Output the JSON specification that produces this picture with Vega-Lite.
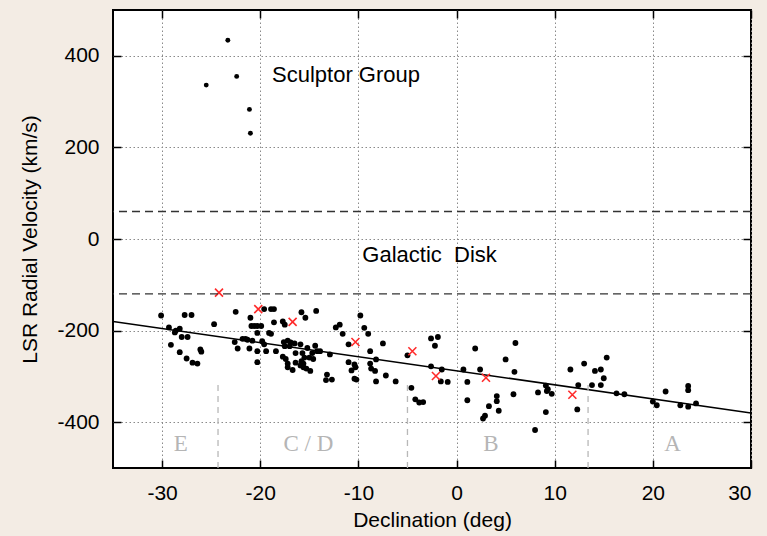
{
  "$schema": "https://vega.github.io/schema/vega-lite/v6.json",
  "width": 638,
  "height": 458,
  "autosize": {"type": "none"},
  "padding": {"left": 113, "top": 10, "right": 16, "bottom": 68},
  "background": "#f3ece4",
  "config": {
    "view": {"fill": "white", "stroke": "black", "strokeWidth": 2},
    "axis": {
      "labelFont": "Liberation Sans",
      "labelFontSize": 21,
      "labelColor": "black",
      "labelExpr": "(datum.value < 0 ? '-' : '') + abs(datum.value)",
      "titleFont": "Liberation Sans",
      "titleFontSize": 21,
      "titleFontWeight": "normal",
      "titleColor": "black",
      "tickColor": "black",
      "tickWidth": 1.5,
      "tickSize": -8,
      "labelPadding": 22,
      "domain": false,
      "gridColor": "#8a8a8a",
      "gridDash": [1.5, 2.5],
      "gridWidth": 1,
      "gridOpacity": 1
    }
  },
  "resolve": {"axis": {"x": "independent", "y": "independent"}},
  "datasets": {
    "hvc": [
      {"dec": -30.1, "vel": -167}, {"dec": -29.3, "vel": -193}, {"dec": -28.7, "vel": -204}, {"dec": -28.6, "vel": -200},
      {"dec": -28.2, "vel": -196}, {"dec": -29.1, "vel": -231}, {"dec": -28.0, "vel": -214}, {"dec": -27.4, "vel": -214},
      {"dec": -27.7, "vel": -166}, {"dec": -27.0, "vel": -166}, {"dec": -28.2, "vel": -247}, {"dec": -27.5, "vel": -261},
      {"dec": -26.9, "vel": -270}, {"dec": -26.4, "vel": -272}, {"dec": -26.1, "vel": -241}, {"dec": -26.0, "vel": -246},
      {"dec": -24.7, "vel": -186},
      {"dec": -22.5, "vel": -159}, {"dec": -22.6, "vel": -225}, {"dec": -22.3, "vel": -239}, {"dec": -21.8, "vel": -218},
      {"dec": -21.5, "vel": -218}, {"dec": -21.1, "vel": -239}, {"dec": -21.0, "vel": -172}, {"dec": -20.8, "vel": -222},
      {"dec": -21.3, "vel": -220}, {"dec": -20.9, "vel": -190}, {"dec": -20.6, "vel": -190}, {"dec": -20.3, "vel": -190},
      {"dec": -19.9, "vel": -190}, {"dec": -20.3, "vel": -205}, {"dec": -20.3, "vel": -269}, {"dec": -20.3, "vel": -245},
      {"dec": -19.6, "vel": -153}, {"dec": -18.9, "vel": -153}, {"dec": -18.6, "vel": -153}, {"dec": -19.8, "vel": -223},
      {"dec": -19.6, "vel": -230}, {"dec": -19.4, "vel": -245}, {"dec": -18.4, "vel": -245}, {"dec": -19.1, "vel": -205},
      {"dec": -18.6, "vel": -182}, {"dec": -17.7, "vel": -180}, {"dec": -17.5, "vel": -187}, {"dec": -15.8, "vel": -160},
      {"dec": -15.4, "vel": -172}, {"dec": -14.3, "vel": -157}, {"dec": -18.9, "vel": -207},
      {"dec": -17.6, "vel": -225}, {"dec": -17.2, "vel": -222}, {"dec": -16.9, "vel": -226}, {"dec": -17.5, "vel": -234},
      {"dec": -17.0, "vel": -234}, {"dec": -16.5, "vel": -228}, {"dec": -15.9, "vel": -230}, {"dec": -15.2, "vel": -238},
      {"dec": -14.4, "vel": -233}, {"dec": -14.2, "vel": -245}, {"dec": -14.7, "vel": -249}, {"dec": -16.4, "vel": -249},
      {"dec": -15.7, "vel": -249}, {"dec": -15.5, "vel": -259}, {"dec": -17.7, "vel": -257}, {"dec": -17.4, "vel": -262},
      {"dec": -17.2, "vel": -272}, {"dec": -16.4, "vel": -270}, {"dec": -15.8, "vel": -267}, {"dec": -15.6, "vel": -272},
      {"dec": -15.0, "vel": -259}, {"dec": -14.6, "vel": -262}, {"dec": -17.2, "vel": -280}, {"dec": -16.7, "vel": -286},
      {"dec": -15.9, "vel": -276}, {"dec": -15.6, "vel": -280}, {"dec": -15.3, "vel": -283}, {"dec": -14.9, "vel": -288},
      {"dec": -13.9, "vel": -245}, {"dec": -12.9, "vel": -252},
      {"dec": -13.2, "vel": -296}, {"dec": -13.3, "vel": -308}, {"dec": -12.7, "vel": -307}, {"dec": -12.3, "vel": -193},
      {"dec": -11.9, "vel": -187}, {"dec": -11.6, "vel": -207}, {"dec": -9.8, "vel": -167}, {"dec": -9.4, "vel": -194},
      {"dec": -9.0, "vel": -207}, {"dec": -11.0, "vel": -230}, {"dec": -11.0, "vel": -269}, {"dec": -10.7, "vel": -287},
      {"dec": -10.4, "vel": -274}, {"dec": -10.3, "vel": -280}, {"dec": -10.4, "vel": -305}, {"dec": -10.2, "vel": -307},
      {"dec": -8.8, "vel": -272}, {"dec": -8.7, "vel": -283}, {"dec": -8.3, "vel": -288}, {"dec": -8.2, "vel": -311},
      {"dec": -8.2, "vel": -263}, {"dec": -8.8, "vel": -245}, {"dec": -7.5, "vel": -228}, {"dec": -7.2, "vel": -298},
      {"dec": -6.2, "vel": -311}, {"dec": -5.0, "vel": -254}, {"dec": -4.6, "vel": -325}, {"dec": -4.2, "vel": -350},
      {"dec": -3.8, "vel": -357}, {"dec": -3.4, "vel": -356},
      {"dec": -2.6, "vel": -217}, {"dec": -2.2, "vel": -233}, {"dec": -1.9, "vel": -214}, {"dec": -2.6, "vel": -278},
      {"dec": -1.5, "vel": -285}, {"dec": -1.6, "vel": -311}, {"dec": -0.9, "vel": -312}, {"dec": 0.7, "vel": -285},
      {"dec": 1.1, "vel": -312}, {"dec": 1.1, "vel": -352}, {"dec": 1.9, "vel": -239}, {"dec": 2.4, "vel": -285},
      {"dec": 2.7, "vel": -392}, {"dec": 2.9, "vel": -386}, {"dec": 3.3, "vel": -365}, {"dec": 4.1, "vel": -343},
      {"dec": 4.1, "vel": -354}, {"dec": 4.3, "vel": -375}, {"dec": 5.0, "vel": -263}, {"dec": 5.8, "vel": -339},
      {"dec": 6.0, "vel": -227}, {"dec": 5.9, "vel": -290}, {"dec": 8.0, "vel": -417}, {"dec": 8.3, "vel": -335},
      {"dec": 9.1, "vel": -320}, {"dec": 9.2, "vel": -332}, {"dec": 9.3, "vel": -328}, {"dec": 9.7, "vel": -338},
      {"dec": 9.1, "vel": -378},
      {"dec": 11.6, "vel": -285}, {"dec": 12.3, "vel": -372}, {"dec": 12.4, "vel": -319}, {"dec": 13.0, "vel": -272},
      {"dec": 13.8, "vel": -319}, {"dec": 14.1, "vel": -288}, {"dec": 14.7, "vel": -285}, {"dec": 14.7, "vel": -319},
      {"dec": 15.0, "vel": -304}, {"dec": 15.3, "vel": -259}, {"dec": 16.3, "vel": -337}, {"dec": 17.1, "vel": -339},
      {"dec": 20.0, "vel": -355}, {"dec": 20.4, "vel": -363}, {"dec": 21.3, "vel": -333}, {"dec": 22.8, "vel": -363},
      {"dec": 23.6, "vel": -321}, {"dec": 23.6, "vel": -330}, {"dec": 23.6, "vel": -366}, {"dec": 24.4, "vel": -359}
    ],
    "sculptor": [
      {"dec": -23.3, "vel": 434}, {"dec": -22.4, "vel": 355}, {"dec": -25.5, "vel": 336},
      {"dec": -21.1, "vel": 283}, {"dec": -21.0, "vel": 231}
    ],
    "means": [
      {"dec": -24.2, "vel": -117}, {"dec": -20.2, "vel": -153}, {"dec": -16.7, "vel": -181}, {"dec": -10.3, "vel": -225},
      {"dec": -4.5, "vel": -245}, {"dec": -2.1, "vel": -299}, {"dec": 3.0, "vel": -303}, {"dec": 11.8, "vel": -340}
    ],
    "fit": [{"dec": -35, "vel": -180}, {"dec": 30, "vel": -380}],
    "bounds": [{"vel": 60}, {"vel": -120}],
    "dividers": [
      {"dec": -24.3, "lo": -500, "hi": -318}, {"dec": -5.0, "lo": -500, "hi": -318}, {"dec": 13.4, "lo": -500, "hi": -318}
    ],
    "regions": [
      {"dec": -28.1, "vel": -448, "label": "E"}, {"dec": -15.1, "vel": -448, "label": "C / D"},
      {"dec": 3.5, "vel": -448, "label": "B"}, {"dec": 22.0, "vel": -448, "label": "A"}
    ],
    "notes": [
      {"dec": -18.8, "vel": 359, "label": "Sculptor Group"},
      {"dec": -9.6, "vel": -35, "label": "Galactic\u00a0\u00a0Disk"}
    ]
  },
  "layer": [
    {
      "data": {"name": "fit"},
      "mark": {"type": "line", "color": "black", "strokeWidth": 1.6, "clip": true},
      "encoding": {
        "x": {"field": "dec", "type": "quantitative", "scale": {"domain": [-35, 30], "nice": false},
          "axis": {"orient": "top", "labels": false, "grid": false, "title": null, "values": [-30, -20, -10, 0, 10, 20, 30]}},
        "y": {"field": "vel", "type": "quantitative", "scale": {"domain": [-500, 500], "nice": false},
          "axis": {"orient": "right", "labels": false, "grid": false, "title": null, "values": [-400, -200, 0, 200, 400]}}
      }
    },
    {
      "data": {"name": "hvc"},
      "mark": {"type": "point", "filled": true, "color": "black", "size": 34, "opacity": 1},
      "encoding": {
        "x": {"field": "dec", "type": "quantitative",
          "axis": {"orient": "bottom", "title": "Declination (deg)", "values": [-30, -20, -10, 0, 10, 20, 30], "grid": true, "titlePadding": 6}},
        "y": {"field": "vel", "type": "quantitative",
          "axis": {"orient": "left", "title": "LSR Radial Velocity (km/s)", "values": [-400, -200, 0, 200, 400], "grid": true, "titlePadding": 16}}
      }
    },
    {
      "data": {"name": "sculptor"},
      "mark": {"type": "point", "filled": true, "color": "black", "size": 24, "opacity": 1},
      "encoding": {
        "x": {"field": "dec", "type": "quantitative", "axis": null},
        "y": {"field": "vel", "type": "quantitative", "axis": null}
      }
    },
    {
      "data": {"name": "means"},
      "mark": {"type": "point", "shape": "M-1,-1L1,1M-1,1L1,-1", "filled": false, "stroke": "#ff2a2a", "strokeWidth": 1.6, "size": 64, "opacity": 1},
      "encoding": {
        "x": {"field": "dec", "type": "quantitative", "axis": null},
        "y": {"field": "vel", "type": "quantitative", "axis": null}
      }
    },
    {
      "data": {"name": "bounds"},
      "mark": {"type": "rule", "color": "#333333", "strokeWidth": 1.3, "strokeDash": [8, 5]},
      "encoding": {"y": {"field": "vel", "type": "quantitative", "axis": null}}
    },
    {
      "data": {"name": "dividers"},
      "mark": {"type": "rule", "color": "#b8b8b8", "strokeWidth": 1.3, "strokeDash": [6, 5]},
      "encoding": {
        "x": {"field": "dec", "type": "quantitative", "axis": null},
        "y": {"field": "lo", "type": "quantitative", "axis": null},
        "y2": {"field": "hi"}
      }
    },
    {
      "data": {"name": "regions"},
      "mark": {"type": "text", "font": "Liberation Serif", "fontSize": 23, "color": "#b5b5b5", "align": "center", "baseline": "middle"},
      "encoding": {
        "x": {"field": "dec", "type": "quantitative", "axis": null},
        "y": {"field": "vel", "type": "quantitative", "axis": null},
        "text": {"field": "label"}
      }
    },
    {
      "data": {"name": "notes"},
      "mark": {"type": "text", "font": "Liberation Sans", "fontSize": 22, "color": "black", "align": "left", "baseline": "middle"},
      "encoding": {
        "x": {"field": "dec", "type": "quantitative", "axis": null},
        "y": {"field": "vel", "type": "quantitative", "axis": null},
        "text": {"field": "label"}
      }
    }
  ]
}
